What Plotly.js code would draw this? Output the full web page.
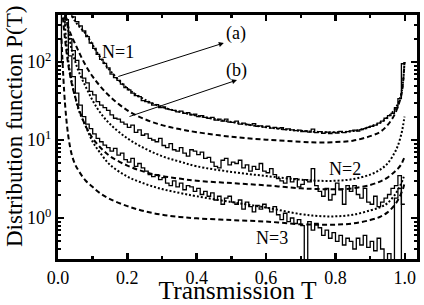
<!DOCTYPE html>
<html><head><meta charset="utf-8">
<script src="https://cdn.plot.ly/plotly-3.0.1.min.js"></script>
<style>html,body{margin:0;padding:0;background:#fff}#c{width:424px;height:305px}</style>
</head><body><div id="c"></div>
<script>
// ---- theory curve sample points ----
var tTheory = [0.01,0.02,0.03,0.04,0.05,0.06,0.08,0.1,0.12,0.15,0.2,0.25,0.3,0.35,0.4,0.5,0.6,0.7,0.75,0.8,0.85,0.9,0.93,0.95,0.97,0.98,0.99,0.995,0.999];
var n1Dotted = [2500,1200,600,400,330,290,230,165,118,78,46,33,26.5,23,20.5,17,14.6,13.1,12.7,12.6,13,14.8,16.8,19.5,24.5,29,40,58,100];
var n1Dashed = [1000,450,280,210,170,135,90,65,50,36,24,18.5,15.5,13.8,12.6,11,10.1,9.5,9.3,9.4,9.8,11.2,12.8,15.5,21,27,38,56,100];
var n2Dotted = [1500,500,250,140,100,75,48,32,23,16,10.5,7.8,6.2,5.3,4.6,3.9,3.45,3.1,3.0,3.0,3.15,3.6,4.2,5.0,6.8,8.5,12,15.5,20];
var n2Dashed = [600,200,90,52,35,25,15,10.5,8.2,6.2,4.7,3.9,3.45,3.2,3.0,2.8,2.62,2.4,2.35,2.33,2.4,2.65,2.95,3.3,3.9,4.3,4.9,5.5,6];
var n3Dotted = [2000,300,100,55,35,24,15,9.5,7,4.8,3.4,2.75,2.35,2.1,1.9,1.6,1.36,1.12,1.06,1.05,1.1,1.25,1.38,1.55,1.95,2.3,2.8,3.2,3.6];
var n3Dashed = [200,30,11,6.4,4.8,4,3,2.5,2.1,1.75,1.42,1.22,1.1,1.03,0.99,0.94,0.9,0.83,0.82,0.82,0.85,0.94,1.04,1.18,1.45,1.7,2.1,2.4,2.8];

// ---- histograms (bin width 0.01, bins 0.00-1.00) ----
var binWidth = 0.01;
var histN1 = [2000,1200,700,460,380,330,290,250,212,175,150,125,108,96,84,70,63,58,52,47,
  44,40,37,36,32,31,30,28,28.5,26,26.5,25,24.5,24,23,23.5,22,22.5,21,21.5,
  20,20.5,19.5,19,19.5,18,18.5,17.5,18.5,17,16.8,17.5,16,16.5,15.8,15.5,16.2,15,15.2,14.6,
  15,14.2,14.5,14,14.4,13.6,13.9,13.5,13.2,13.4,12.8,13.1,12.6,13.8,12.4,12.8,12.2,12.6,12.1,12.5,
  12.3,12.9,12.4,12.8,13.1,13.4,13,13.6,14,14.5,15,15.5,16.5,17.5,19,20.5,22,26,34,95];
var histN2 = [3000,800,350,200,140,105,80,62,54,42,38,31,28,26,24,21,19,18.5,17,16,
  14.5,15.5,12.5,13.5,11.5,12,10.5,10,9.5,10.5,8.5,8,9,7.5,7.2,8,6.8,6.2,7.5,7.2,
  6.5,7,5.8,6,5.2,4.6,4.4,5.5,5.8,4.8,5.2,5.0,5.5,4.4,4.8,4.0,4.6,4.2,5.0,4.0,
  3.8,4.3,3.6,3.2,3.0,2.8,3.4,2.9,3.2,2.5,2.7,3.1,2.9,4.3,2.6,2.2,1.9,2.4,1.7,2.0,
  2.8,2.3,1.5,2.6,2.2,2.6,2.0,1.8,2.4,1.6,1.5,1.9,1.4,1.6,1.8,2.0,2.4,2.6,3.5,1.5];
var histN3 = [100,1500,300,120,65,40,28,20,16,14,12,10.5,9.5,8.6,8,7.2,7.8,6.4,6.8,5.6,
  5.2,5.8,4.6,5.0,4.4,4.0,3.6,3.4,3.6,3.1,3.3,2.8,2.6,3.0,2.5,2.8,2.3,2.6,2.5,2.2,
  2.4,2.0,2.2,1.9,2.1,1.7,1.9,1.5,1.8,1.9,1.6,1.5,1.7,1.3,1.6,1.4,1.2,1.45,1.3,1.5,
  1.35,1.2,1.4,1.1,0.95,1.15,0.9,1.0,0.85,0.95,0.8,0.01,0.9,0.7,0.85,0.75,0.6,0.7,0.55,0.65,
  0.5,0.6,0.45,0.55,0.5,0.4,0.55,0.45,0.6,0.42,0.5,0.38,0.55,0.4,0.01,0.35,0.01,1.8,2.4,0.01];

// tick labels
var xTickVals = [0,0.2,0.4,0.6,0.8,1.0];
var xTickText = ['0.0','0.2','0.4','0.6','0.8','1.0'];
var yTickVals = [1,10,100];
var yTickText = ['10<sup>0</sup>','10<sup>1</sup>','10<sup>2</sup>'];

function stepTrace(vals){
  var x=[], y=[];
  for(var i=0;i<vals.length;i++){ x.push(i*binWidth); y.push(vals[i]); }
  x.push(vals.length*binWidth); y.push(vals[vals.length-1]);
  return {x:x,y:y,type:'scatter',mode:'lines',line:{shape:'hv',color:'#000',width:1.3},hoverinfo:'skip'};
}
function curve(vals,dash){
  return {x:tTheory,y:vals,type:'scatter',mode:'lines',line:{shape:'spline',color:'#000',width:2,dash:dash},hoverinfo:'skip'};
}
var data = [
  curve(n1Dashed,'5px,3px'), curve(n2Dashed,'5px,3px'), curve(n3Dashed,'5px,3px'),
  curve(n1Dotted,'2px,2px'), curve(n2Dotted,'2px,2px'), curve(n3Dotted,'2px,2px'),
  stepTrace(histN1), stepTrace(histN2), stepTrace(histN3)
];

var minorY=[];
[0.1,1,10,100].forEach(function(d){for(var k=2;k<=9;k++){minorY.push(k*d);}});
var ff = '"Liberation Serif", "Times New Roman", Times, serif';
var layout = {
  width:424, height:305, showlegend:false,
  paper_bgcolor:'#fff', plot_bgcolor:'#fff',
  margin:{l:58,r:7,t:15,b:46},
  font:{family:ff,color:'#000',size:18},
  xaxis:{range:[0,1.035], tickmode:'array', tickvals:xTickVals, ticktext:xTickText,
    ticks:'inside', ticklen:6, tickwidth:2.5, tickcolor:'#000',
    showline:true, linewidth:3, linecolor:'#000', mirror:'ticks', showgrid:false, zeroline:false,
    tickfont:{size:18,family:ff,color:'#000'},
    minor:{tickmode:'array', tickvals:[0.1,0.3,0.5,0.7,0.9], ticks:'inside', ticklen:3, tickwidth:2.5, tickcolor:'#000'},
    title:{text:'Transmission T', font:{size:25.5,family:ff,color:'#000'}, standoff:6}},
  yaxis:{type:'log', range:[-0.526,2.603], tickmode:'array', tickvals:yTickVals, ticktext:yTickText,
    ticks:'inside', ticklen:6, tickwidth:2.5, tickcolor:'#000',
    showline:true, linewidth:3, linecolor:'#000', mirror:'ticks', showgrid:false, zeroline:false,
    tickfont:{size:18,family:ff,color:'#000'},
    minor:{tickmode:'array', tickvals:minorY, ticks:'inside', ticklen:3, tickwidth:2, tickcolor:'#000'}},
  annotations:[
    {x:-0.1226, y:0.545, xref:'paper', yref:'paper', xanchor:'center', yanchor:'middle', text:'Distribution function P(T)', textangle:-90, showarrow:false, font:{size:23,family:ff,color:'#000'}},
    {x:0.173, y:2.128, xref:'x', yref:'y', text:'N=1', showarrow:false, font:{size:18,family:ff,color:'#000'}},
    {x:0.827, y:0.628, xref:'x', yref:'y', text:'N=2', showarrow:false, font:{size:18,family:ff,color:'#000'}},
    {x:0.617, y:-0.256, xref:'x', yref:'y', text:'N=3', showarrow:false, font:{size:18,family:ff,color:'#000'}},
    {x:0.513, y:2.372, xref:'x', yref:'y', text:'(a)', showarrow:false, font:{size:18,family:ff,color:'#000'}},
    {x:0.516, y:1.897, xref:'x', yref:'y', text:'(b)', showarrow:false, font:{size:18,family:ff,color:'#000'}},
    {x:0.478, y:2.244, xref:'x', yref:'y', text:'', showarrow:true, ax:-107, ay:34, arrowhead:2, arrowsize:1, arrowwidth:1, arrowcolor:'#000', standoff:0},
    {x:0.516, y:1.769, xref:'x', yref:'y', text:'', showarrow:true, ax:-109, ay:37, arrowhead:2, arrowsize:1, arrowwidth:1, arrowcolor:'#000', standoff:0}
  ]
};
Plotly.newPlot('c', data, layout, {staticPlot:true, displayModeBar:false});
</script></body></html>
